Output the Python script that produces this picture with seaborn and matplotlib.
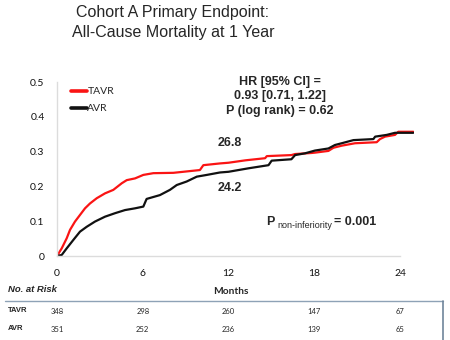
import matplotlib
matplotlib.use("Agg")
import matplotlib.pyplot as plt
import matplotlib.transforms as mtransforms
from matplotlib.lines import Line2D
import pandas as pd
import seaborn as sns

# Kaplan-Meier cumulative mortality, knots of each curve
tavr_months = [0, 0.33, 0.68, 0.91, 1.26, 1.61, 1.96, 2.31, 2.78, 3.36, 3.94, 4.53, 4.88,
               5.46, 6.04, 6.74, 8.14, 10.0, 10.24, 11.4, 12.0, 13.2, 14.56, 14.68, 16.4,
               16.66, 17.8, 18.05, 18.99, 19.34, 19.92, 20.85, 22.37, 22.6, 22.95, 23.65,
               23.88, 24.93]
tavr_rate = [0, 0.022, 0.051, 0.075, 0.099, 0.118, 0.137, 0.151, 0.166, 0.18, 0.19, 0.209,
             0.218, 0.223, 0.233, 0.238, 0.239, 0.247, 0.261, 0.266, 0.268, 0.275, 0.281,
             0.287, 0.29, 0.293, 0.296, 0.297, 0.302, 0.311, 0.317, 0.324, 0.327, 0.336,
             0.343, 0.348, 0.357, 0.357]

avr_months = [0, 0.33, 0.68, 1.14, 1.61, 2.08, 2.66, 3.36, 4.06, 4.76, 5.46, 6.04, 6.27,
              7.2, 7.9, 8.38, 9.07, 9.78, 10.48, 11.4, 12.0, 13.4, 14.8, 15.02, 16.4,
              16.66, 17.35, 18.05, 18.99, 19.45, 19.92, 20.74, 22.14, 22.26, 23.07, 23.65,
              24.93]
avr_rate = [0, 0.003, 0.022, 0.046, 0.07, 0.084, 0.099, 0.113, 0.123, 0.132, 0.137, 0.142,
            0.164, 0.175, 0.19, 0.204, 0.214, 0.228, 0.233, 0.24, 0.242, 0.252, 0.261,
            0.274, 0.278, 0.29, 0.295, 0.303, 0.309, 0.319, 0.324, 0.333, 0.336, 0.343,
            0.348, 0.354, 0.354]

groups = ["TAVR", "AVR"]
rate_at_12 = [26.8, 24.2]
x_ticks = [0, 6, 12, 18, 24]
y_ticks = [0, 0.1, 0.2, 0.3, 0.4, 0.5]
y_tick_labels = ["0", "0.1", "0.2", "0.3", "0.4", "0.5"]
at_risk = {"TAVR": [348, 298, 260, 147, 67],
           "AVR": [351, 252, 236, 139, 65]}

sns.set_theme(style="white")
plt.rcParams["font.family"] = ["Liberation Sans", "DejaVu Sans"]

df = pd.concat([
    pd.DataFrame({"Months": tavr_months, "Rate": tavr_rate, "Group": "TAVR"}),
    pd.DataFrame({"Months": avr_months, "Rate": avr_rate, "Group": "AVR"}),
])

W, H = 450, 340
fig = plt.figure(figsize=(W / 100, H / 100), dpi=100)


def fx(px):
    return px / W


def fy(py):
    return 1 - py / H


ax = fig.add_axes([fx(57), fy(256), fx(414.3) - fx(57), fy(82) - fy(256)])

palette = {"TAVR": "#fa1414", "AVR": "#111111"}
sns.lineplot(data=df, x="Months", y="Rate", hue="Group", hue_order=groups,
             palette=palette, linewidth=1.6, ax=ax, estimator=None, sort=False)

ax.set_xlim(0, 25)
ax.set_ylim(0, 0.5)
ax.set_xticks(x_ticks)
ax.set_yticks(y_ticks)
ax.set_yticklabels(y_tick_labels)
ax.tick_params(axis="both", length=0, labelsize=7.5, colors="#111111")
ax.tick_params(axis="x", pad=9)
ax.tick_params(axis="y", pad=9)
for lab in ax.get_xticklabels() + ax.get_yticklabels():
    lab.set_family("Lato")
ax.set_xlabel("")
ax.set_ylabel("")
for s in ["top", "right"]:
    ax.spines[s].set_visible(False)
for s in ["left", "bottom"]:
    ax.spines[s].set_color("#dcdcdc")
    ax.spines[s].set_linewidth(1.0)
ax.spines["bottom"].set_bounds(0, 24)

leg = ax.legend(loc="upper left", bbox_to_anchor=(0.012, 1.025), frameon=False,
                handlelength=1.6, handletextpad=0.0, labelspacing=0.75,
                prop={"family": "Lato", "size": 7.5})
for line in leg.get_lines():
    line.set_linewidth(2.6)

# Values at 12 months
ax.text(12.1, 0.325, f"{rate_at_12[0]}", ha="center", va="center",
        fontsize=9, fontweight="bold")
ax.text(12.1, 0.195, f"{rate_at_12[1]}", ha="center", va="center",
        fontsize=9, fontweight="bold")

# Title
fig.text(fx(173), fy(12), "Cohort A Primary Endpoint:", ha="center", va="center",
         fontsize=11.5)
fig.text(fx(173), fy(32), "All-Cause Mortality at 1 Year", ha="center", va="center",
         fontsize=11.5)

# Hazard ratio block
for txt, py in [("HR [95% CI] =", 82), ("0.93 [0.71, 1.22]", 96),
                ("P (log rank) = 0.62", 111)]:
    fig.text(fx(280), fy(py), txt, ha="center", va="center", fontsize=9,
             fontweight="bold")

fig.text(fx(266), fy(222), "P", ha="left", va="center", fontsize=9, fontweight="bold")
fig.text(fx(277), fy(225), "non-inferiority", ha="left", va="center", fontsize=6.5)
fig.text(fx(334), fy(222), "= 0.001", ha="left", va="center", fontsize=9,
         fontweight="bold")

# Number at risk table
fig.text(fx(8), fy(290), "No. at Risk", ha="left", va="center", fontsize=6.8,
         fontweight="bold", style="italic")
fig.text(fx(231), fy(291), "Months", ha="center", va="center", fontsize=7.3,
         fontweight="bold", family="Lato")

fig.add_artist(Line2D([fx(5), fx(443)], [fy(301), fy(301)], color="#8ea2b6",
                      linewidth=1.0))
fig.add_artist(Line2D([fx(443), fx(443)], [fy(301), fy(340)], color="#6f859b",
                      linewidth=1.2))

blend = mtransforms.blended_transform_factory(ax.transData, fig.transFigure)
for grp, py in [("TAVR", 311), ("AVR", 329)]:
    fig.text(fx(8), fy(py), grp, ha="left", va="center", fontsize=5.5,
             fontweight="bold")
    for xm, n in zip(x_ticks, at_risk[grp]):
        ax.text(xm, fy(py), str(n), transform=blend, ha="center", va="center",
                fontsize=5.5, family="Lato", clip_on=False)

fig.savefig("out.png", dpi=100)
